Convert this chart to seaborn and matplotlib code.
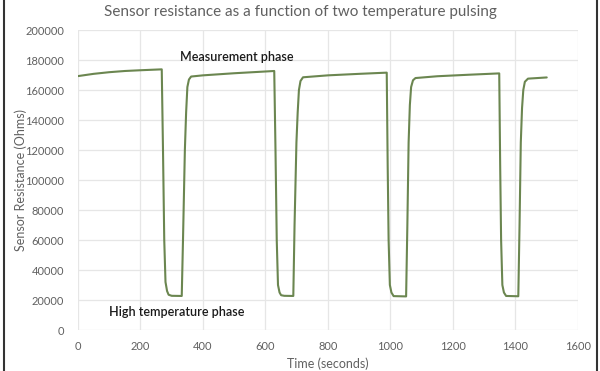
import matplotlib
matplotlib.use("Agg")
import matplotlib.pyplot as plt
import seaborn as sns
import pandas as pd
from matplotlib.lines import Line2D

time_s = [0, 50, 100, 150, 200, 268,
          272, 276, 280, 285, 290, 300, 332,
          336, 342, 346, 350, 355, 362, 400, 500, 628,
          632, 636, 640, 645, 650, 660, 689,
          693, 699, 703, 707, 712, 720, 800, 900, 988,
          991, 994, 998, 1003, 1010, 1050,
          1054, 1058, 1062, 1066, 1072, 1080, 1150, 1250, 1348,
          1351, 1354, 1358, 1363, 1370, 1409,
          1413, 1417, 1421, 1425, 1430, 1440, 1500]
resistance = [169300, 170800, 171900, 172700, 173200, 173800,
              120000, 60000, 32000, 26000, 23500, 22800, 22700,
              60000, 120000, 145000, 162000, 167000, 169000, 169800, 171200, 172700,
              120000, 60000, 30000, 25000, 23200, 22800, 22700,
              70000, 125000, 145000, 160000, 166000, 168500, 169800, 170800, 171600,
              110000, 60000, 30000, 25000, 22600, 22400,
              70000, 125000, 150000, 162000, 166500, 168000, 169200, 170200, 171100,
              110000, 60000, 30000, 25000, 22700, 22500,
              70000, 125000, 148000, 160000, 165500, 167600, 168400]

title = "Sensor resistance as a function of two temperature pulsing"
x_label = "Time (seconds)"
y_label = "Sensor Resistance (Ohms)"
x_ticks = [0, 200, 400, 600, 800, 1000, 1200, 1400, 1600]
y_ticks = [0, 20000, 40000, 60000, 80000, 100000, 120000, 140000, 160000, 180000, 200000]
annotations = ["Measurement phase", "High temperature phase"]

df = pd.DataFrame({"t": time_s, "r": resistance})

sns.set_theme(style="white")
plt.rcParams["font.family"] = ["Lato", "DejaVu Sans"]

fig = plt.figure(figsize=(6, 3.71), dpi=100)
ax = fig.add_axes([0.13, 0.1105, 0.8333, 0.8085])

sns.lineplot(data=df, x="t", y="r", ax=ax, sort=False, estimator=None,
             color="#6b8650", linewidth=1.5)

ax.set_xlim(0, 1600)
ax.set_ylim(0, 200000)
ax.set_xticks(x_ticks)
ax.set_yticks(y_ticks)
ax.set_xticklabels([str(v) for v in x_ticks])
ax.set_yticklabels([str(v) for v in y_ticks])
ax.grid(True, color="#e6e6e6", linewidth=0.9)
ax.set_axisbelow(True)
for s in ax.spines.values():
    s.set_visible(False)
ax.tick_params(axis="both", length=0, labelsize=8, labelcolor="#606060")
ax.tick_params(axis="y", pad=10)
ax.tick_params(axis="x", pad=8)

ax.set_xlabel(x_label, fontsize=9, color="#606060", labelpad=4)
ax.set_ylabel(y_label, fontsize=9, color="#606060")
ax.yaxis.set_label_coords(-0.103, 0.5)
fig.text(0.5, 0.968, title, ha="center", va="center", fontsize=11, color="#606060")

ax.text(509, 182000, annotations[0], ha="center", va="center", fontsize=9, color="#1a1a1a",
        fontweight="semibold")
ax.text(317, 12000, annotations[1], ha="center", va="center", fontsize=9, color="#1a1a1a",
        fontweight="semibold")

fig.add_artist(Line2D([0.007, 0.007], [0, 1], transform=fig.transFigure, color="#333333", linewidth=1.5))
fig.add_artist(Line2D([0.995, 0.995], [0, 1], transform=fig.transFigure, color="#333333", linewidth=1.5))

fig.savefig("out.png", dpi=100)
